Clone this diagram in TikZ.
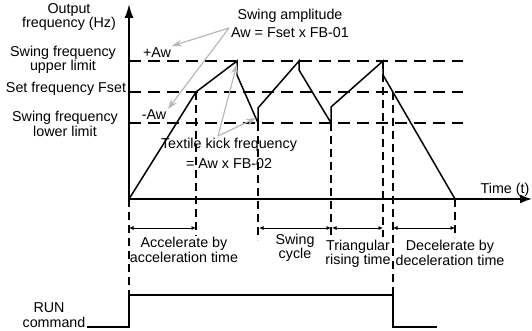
\documentclass[tikz,border=0pt]{standalone}
\usepackage{fontspec}
\setmainfont{Liberation Sans}
\usetikzlibrary{arrows.meta}
\begin{document}
\begin{tikzpicture}[x=1pt,y=-1pt,
  lbl/.style={inner sep=0pt, align=center, font=\fontsize{14.3}{14.3}\selectfont},
  wave/.style={line width=1.5pt, line join=miter},
  axis/.style={line width=1.8pt},
  hdash/.style={line width=1.6pt, dash pattern=on 12pt off 7pt},
  vdash/.style={line width=1.4pt, dash pattern=on 8pt off 5pt},
  grayarr/.style={draw=black!28, line width=1.2pt, -{Stealth[length=10pt,width=7pt,fill=black!28]}},
  dim/.style={line width=0.8pt, {Latex[length=4.5pt,width=4pt]}-{Latex[length=4.5pt,width=4pt]}},
  run/.style={line width=2pt}
]
\useasboundingbox (0,0) rectangle (532,331);

% key coordinates
\coordinate (O) at (129,199);
\coordinate (Ytop) at (129,4);
\coordinate (Xend) at (532,199);
\coordinate (P1) at (196,92);
\coordinate (P2) at (237,61);
\coordinate (P3) at (237,75);
\coordinate (P4) at (258,123);
\coordinate (P5) at (258,108);
\coordinate (P6) at (299,61);
\coordinate (P7) at (299,70);
\coordinate (P8) at (331,123);
\coordinate (P9) at (331,107);
\coordinate (P10) at (383,61);
\coordinate (P11) at (383,75);
\coordinate (P12) at (455,199);
\coordinate (D393) at (393,92);

% horizontal dashed levels
\coordinate (H1a) at (129,61);  \coordinate (H1b) at (463,61);
\coordinate (H2a) at (129,92);  \coordinate (H2b) at (463,92);
\coordinate (H3a) at (129,123); \coordinate (H3b) at (463,123);
\draw[hdash] (H1a) -- (H1b);
\draw[hdash] (H2a) -- (H2b);
\draw[hdash] (H3a) -- (H3b);

% vertical dashed lines
\coordinate (V1) at (196,236);
\coordinate (V2) at (258,240);
\coordinate (V3) at (331,240);
\coordinate (V4) at (383,237);
\coordinate (V5) at (455,238);
\coordinate (V0) at (129,295);
\coordinate (V6) at (393,295);
\draw[vdash] (O) -- (V0);
\draw[vdash] (P1) -- (V1);
\draw[vdash] (P4) -- (V2);
\draw[vdash] (P8) -- (V3);
\draw[vdash] (P10) -- (V4);
\draw[vdash] (P12) -- (V5);
\draw[vdash] (D393) -- (V6);

% waveform
\draw[wave] (O) -- (P1) -- (P2) -- (P3) -- (P4) -- (P5) -- (P6) -- (P7) -- (P8) -- (P9) -- (P10) -- (P11) -- (P12);

% axes
\draw[axis, -{Latex[length=14pt,width=9pt]}] (O) -- (Ytop);
\draw[axis, -{Latex[length=12pt,width=9pt]}] (O) -- (Xend);

% labels
\node[lbl] (out) at (69,17) {Output\\frequency (Hz)};
\node[lbl] (upl) at (63,60) {Swing frequency\\upper limit};
\node[lbl] (setf) at (66,89) {Set frequency Fset};
\node[lbl] (lwl) at (65,124) {Swing frequency\\lower limit};
\node[lbl] (pAw) at (157,53) {+Aw};
\node[lbl] (mAw) at (154,115) {-Aw};
\node[lbl, font=\fontsize{14.3}{18}\selectfont] (amp) at (290,23) {Swing amplitude\\Aw = Fset x FB-01};
\node[lbl, font=\fontsize{14.3}{20}\selectfont] (kick) at (229,153) {Textile kick frequency\\= Aw x FB-02};
\node[lbl] (time) at (505,190) {Time (t)};
\node[lbl] (acc) at (184,250) {Accelerate by\\acceleration time};
\node[lbl] (swc) at (295,248) {Swing\\cycle};
\node[lbl] (tri) at (358,254) {Triangular\\rising time};
\node[lbl] (dec) at (450,253) {Decelerate by\\deceleration time};
\node[lbl] (runa) at (49,308) {RUN};
\node[lbl] (runb) at (54,322) {command};

% gray annotation arrows
\coordinate (A0) at (229,28);
\coordinate (A1) at (172,46);
\coordinate (A2) at (168,109);
\draw[grayarr] (A0) -- (A1);
\draw[grayarr] (A0) -- (A2);
\coordinate (K0) at (218,136);
\coordinate (K1) at (237,64);
\coordinate (K2) at (256,118);
\draw[grayarr] (K0) -- (K1);
\draw[grayarr] (K0) -- (K2);

% dimension arrows
\coordinate (d1a) at (129,228); \coordinate (d1b) at (196,228);
\coordinate (d2a) at (259,228); \coordinate (d2b) at (331,228);
\coordinate (d3a) at (332,228); \coordinate (d3b) at (383,228);
\coordinate (d4a) at (393,228); \coordinate (d4b) at (455,228);
\draw[dim] (d1a) -- (d1b);
\draw[dim] (d2a) -- (d2b);
\draw[dim] (d3a) -- (d3b);
\draw[dim] (d4a) -- (d4b);

% RUN command signal
\coordinate (R0) at (87,327);
\coordinate (R1) at (129,327);
\coordinate (R2) at (129,295);
\coordinate (R3) at (393,295);
\coordinate (R4) at (393,327);
\coordinate (R5) at (437,327);
\draw[run] (R0) -- (R1) -- (R2) -- (R3) -- (R4) -- (R5);
\end{tikzpicture}
\end{document}
